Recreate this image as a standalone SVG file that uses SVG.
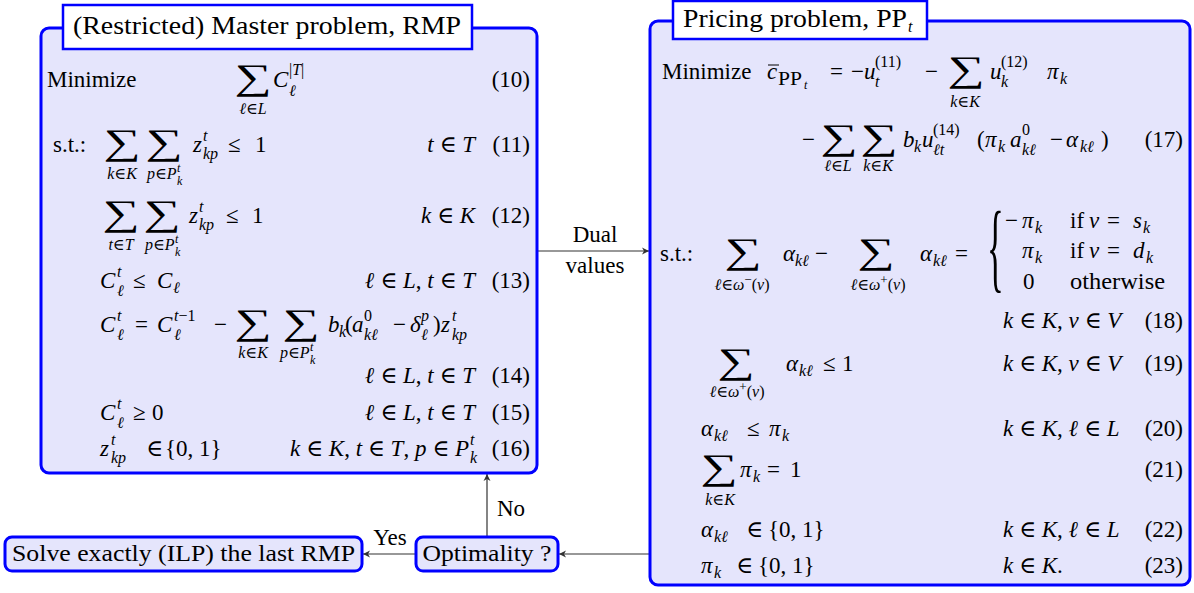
<svg xmlns="http://www.w3.org/2000/svg" width="1194" height="593" viewBox="0 0 1194 593">
<defs>
<marker id="ah" markerWidth="10" markerHeight="8" refX="7" refY="4" orient="auto" markerUnits="userSpaceOnUse">
<path d="M0,0.5 L7,4 L0,7.5 L2,4 Z" fill="#333"/>
</marker>
</defs>
<style>
text{font-family:"Liberation Serif","Times New Roman","DejaVu Serif",serif;font-size:23px;fill:#000}
.i{font-style:italic}
.s{font-size:16px}
.ss{font-size:12px}
.e{text-anchor:end}
.c{text-anchor:middle}
.sum{font-size:36px;text-anchor:middle}
.ttl{font-size:25px}
.box{fill:#e5e5fc;stroke:#0000ff;stroke-width:3}
.tb{fill:#ffffff;stroke:#0000ff;stroke-width:2.5}
.cn{stroke:#333;stroke-width:1.2;fill:none;marker-end:url(#ah)}
.bar{stroke:#000;stroke-width:1}
</style>
<rect width="1194" height="593" fill="#ffffff"/>

<g id="connectors">
<line class="cn" x1="538" y1="251" x2="649" y2="251"/>
<line class="cn" x1="650" y1="554" x2="559" y2="554"/>
<line class="cn" x1="416" y1="554" x2="363" y2="554"/>
<line class="cn" x1="487" y1="537" x2="487" y2="474"/>
<text class="c" x="595" y="242">Dual</text>
<text class="c" x="595" y="273">values</text>
<text class="c" x="390" y="545">Yes</text>
<text x="497" y="516">No</text>
</g>

<g id="rmp">
<rect class="box" x="41" y="28" width="496" height="445" rx="8"/>
<rect class="tb" x="63" y="5" width="409" height="44"/>
<text class="ttl c" x="267" y="34" textLength="388" lengthAdjust="spacingAndGlyphs">(Restricted) Master problem, RMP</text>
<text x="47" y="87">Minimize</text>
<text class="sum" transform="translate(253,89) scale(1.45,1)">∑</text>
<text class="i" x="273" y="87">C</text>
<text class="s" x="289" y="75">|<tspan class="i">T</tspan>|</text>
<text class="s i" x="289" y="96">ℓ</text>
<text class="s c" x="253" y="114"><tspan class="i">ℓ</tspan>∈<tspan class="i">L</tspan></text>
<text class="e" x="530" y="87">(10)</text>
<text x="53" y="152">s.t.:</text>
<text class="sum" transform="translate(122,154) scale(1.45,1)">∑</text>
<text class="sum" transform="translate(164,154) scale(1.45,1)">∑</text>
<text class="s c" x="122" y="179"><tspan class="i">k</tspan>∈<tspan class="i">K</tspan></text>
<text class="s" x="147" y="179"><tspan class="i">p</tspan>∈<tspan class="i">P</tspan></text>
<text class="ss i" x="177" y="172">t</text>
<text class="ss i" x="177" y="185">k</text>
<text class="i" x="193" y="152">z</text>
<text class="s i" x="203" y="141">t</text>
<text class="s i" x="203" y="159">kp</text>
<text x="228" y="152">≤</text>
<text x="255" y="152">1</text>
<text class="e" x="475" y="152"><tspan class="i">t</tspan> ∈ <tspan class="i">T</tspan></text>
<text class="e" x="530" y="152">(11)</text>
<text class="sum" transform="translate(121,225) scale(1.45,1)">∑</text>
<text class="sum" transform="translate(162,225) scale(1.45,1)">∑</text>
<text class="s c" x="121" y="250"><tspan class="i">t</tspan>∈<tspan class="i">T</tspan></text>
<text class="s" x="145" y="250"><tspan class="i">p</tspan>∈<tspan class="i">P</tspan></text>
<text class="ss i" x="175" y="243">t</text>
<text class="ss i" x="175" y="256">k</text>
<text class="i" x="189" y="223">z</text>
<text class="s i" x="199" y="212">t</text>
<text class="s i" x="199" y="230">kp</text>
<text x="226" y="223">≤</text>
<text x="252" y="223">1</text>
<text class="e" x="475" y="223"><tspan class="i">k</tspan> ∈ <tspan class="i">K</tspan></text>
<text class="e" x="530" y="223">(12)</text>
<text class="i" x="100" y="288">C</text>
<text class="s i" x="117" y="277">t</text>
<text class="s i" x="117" y="296">ℓ</text>
<text x="133" y="288">≤</text>
<text class="i" x="157" y="288">C</text>
<text class="s i" x="173" y="293">ℓ</text>
<text class="e" x="475" y="288"><tspan class="i">ℓ</tspan> ∈ <tspan class="i">L</tspan>, <tspan class="i">t</tspan> ∈ <tspan class="i">T</tspan></text>
<text class="e" x="530" y="288">(13)</text>
<text class="i" x="100" y="332">C</text>
<text class="s i" x="117" y="321">t</text>
<text class="s i" x="117" y="340">ℓ</text>
<text x="135" y="332">=</text>
<text class="i" x="157" y="332">C</text>
<text class="s" x="174" y="321"><tspan class="i">t</tspan>−1</text>
<text class="s i" x="174" y="340">ℓ</text>
<text x="214" y="332">−</text>
<text class="sum" transform="translate(253,334) scale(1.45,1)">∑</text>
<text class="sum" transform="translate(301,334) scale(1.45,1)">∑</text>
<text class="s c" x="253" y="358"><tspan class="i">k</tspan>∈<tspan class="i">K</tspan></text>
<text class="s" x="280" y="358"><tspan class="i">p</tspan>∈<tspan class="i">P</tspan></text>
<text class="ss i" x="310" y="351">t</text>
<text class="ss i" x="310" y="364">k</text>
<text class="i" x="328" y="332">b</text>
<text class="s i" x="339" y="337">k</text>
<text x="345" y="332">(</text>
<text class="i" x="352" y="332">a</text>
<text class="s" x="364" y="321">0</text>
<text class="s i" x="364" y="340">kℓ</text>
<text x="393" y="332">−</text>
<text class="i" x="410" y="332">δ</text>
<text class="s i" x="421" y="321">p</text>
<text class="s i" x="421" y="340">ℓ</text>
<text x="433" y="332">)</text>
<text class="i" x="441" y="332">z</text>
<text class="s i" x="452" y="321">t</text>
<text class="s i" x="452" y="340">kp</text>
<text class="e" x="475" y="383"><tspan class="i">ℓ</tspan> ∈ <tspan class="i">L</tspan>, <tspan class="i">t</tspan> ∈ <tspan class="i">T</tspan></text>
<text class="e" x="530" y="383">(14)</text>
<text class="i" x="100" y="420">C</text>
<text class="s i" x="117" y="409">t</text>
<text class="s i" x="117" y="428">ℓ</text>
<text x="133" y="420">≥</text>
<text x="152" y="420">0</text>
<text class="e" x="475" y="420"><tspan class="i">ℓ</tspan> ∈ <tspan class="i">L</tspan>, <tspan class="i">t</tspan> ∈ <tspan class="i">T</tspan></text>
<text class="e" x="530" y="420">(15)</text>
<text class="i" x="100" y="456">z</text>
<text class="s i" x="111" y="445">t</text>
<text class="s i" x="111" y="463">kp</text>
<text x="146" y="456">∈</text>
<text x="165" y="456">{0, 1}</text>
<text class="e" x="469" y="456"><tspan class="i">k</tspan> ∈ <tspan class="i">K</tspan>, <tspan class="i">t</tspan> ∈ <tspan class="i">T</tspan>, <tspan class="i">p</tspan> ∈ <tspan class="i">P</tspan></text>
<text class="s i" x="470" y="445">t</text>
<text class="s i" x="470" y="463">k</text>
<text class="e" x="530" y="456">(16)</text>
</g>

<g id="pricing">
<rect class="box" x="650" y="21" width="540" height="564" rx="8"/>
<rect class="tb" x="673" y="1" width="254" height="38"/>
<text class="ttl" x="683" y="27" textLength="224" lengthAdjust="spacingAndGlyphs">Pricing problem, PP</text>
<text class="s i" x="908" y="32">t</text>
<text x="662" y="79">Minimize</text>
<text class="i" x="767" y="79">c</text>
<line class="bar" x1="768" y1="65" x2="779" y2="65"/>
<text x="778" y="85" style="font-size:18px" textLength="24" lengthAdjust="spacingAndGlyphs">PP</text>
<text class="ss i" x="804" y="89">t</text>
<text x="830" y="79">=</text>
<text x="851" y="79">−</text>
<text class="i" x="864" y="79">u</text>
<text class="s" x="875" y="67">(11)</text>
<text class="s i" x="875" y="87">t</text>
<text x="925" y="79">−</text>
<text class="sum" transform="translate(966,81) scale(1.45,1)">∑</text>
<text class="s c" x="965" y="107"><tspan class="i">k</tspan>∈<tspan class="i">K</tspan></text>
<text class="i" x="990" y="79">u</text>
<text class="s" x="1001" y="67">(12)</text>
<text class="s i" x="1001" y="87">k</text>
<text class="i" x="1047" y="79">π</text>
<text class="s i" x="1060" y="84">k</text>
<text x="802" y="147">−</text>
<text class="sum" transform="translate(839,149) scale(1.45,1)">∑</text>
<text class="sum" transform="translate(879,149) scale(1.45,1)">∑</text>
<text class="s c" x="838" y="171"><tspan class="i">ℓ</tspan>∈<tspan class="i">L</tspan></text>
<text class="s c" x="878" y="171"><tspan class="i">k</tspan>∈<tspan class="i">K</tspan></text>
<text class="i" x="903" y="147">b</text>
<text class="s i" x="914" y="152">k</text>
<text class="i" x="922" y="147">u</text>
<text class="s" x="933" y="135">(14)</text>
<text class="s i" x="933" y="155">ℓt</text>
<text x="977" y="147">(</text>
<text class="i" x="985" y="147">π</text>
<text class="s i" x="998" y="152">k</text>
<text class="i" x="1010" y="147">a</text>
<text class="s" x="1022" y="135">0</text>
<text class="s i" x="1022" y="155">kℓ</text>
<text x="1050" y="147">−</text>
<text class="i" x="1066" y="147">α</text>
<text class="s i" x="1080" y="152">kℓ</text>
<text x="1101" y="147">)</text>
<text class="e" x="1183" y="147">(17)</text>
<text x="660" y="261">s.t.:</text>
<text class="sum" transform="translate(743,263) scale(1.45,1)">∑</text>
<text class="s c" x="742" y="290"><tspan class="i">ℓ</tspan>∈<tspan class="i">ω</tspan><tspan style="font-size:13px" dy="-6">−</tspan><tspan dy="6">(</tspan><tspan class="i">v</tspan>)</text>
<text class="i" x="783" y="261">α</text>
<text class="s i" x="795" y="266">kℓ</text>
<text x="815" y="261">−</text>
<text class="sum" transform="translate(876,263) scale(1.45,1)">∑</text>
<text class="s c" x="878" y="290"><tspan class="i">ℓ</tspan>∈<tspan class="i">ω</tspan><tspan style="font-size:13px" dy="-6">+</tspan><tspan dy="6">(</tspan><tspan class="i">v</tspan>)</text>
<text class="i" x="920" y="261">α</text>
<text class="s i" x="933" y="266">kℓ</text>
<text x="955" y="261">=</text>
<text transform="translate(987,280) scale(0.35,1)" style="font-size:100px">{</text>
<text x="1005" y="228">−</text>
<text class="i" x="1022" y="228">π</text>
<text class="s i" x="1035" y="233">k</text>
<text x="1070" y="228">if</text>
<text class="i" x="1089" y="228">v</text>
<text x="1107" y="228">=</text>
<text class="i" x="1133" y="228">s</text>
<text class="s i" x="1143" y="233">k</text>
<text class="i" x="1022" y="258">π</text>
<text class="s i" x="1035" y="263">k</text>
<text x="1070" y="258">if</text>
<text class="i" x="1089" y="258">v</text>
<text x="1107" y="258">=</text>
<text class="i" x="1133" y="258">d</text>
<text class="s i" x="1146" y="263">k</text>
<text x="1023" y="289">0</text>
<text x="1070" y="289" textLength="95" lengthAdjust="spacingAndGlyphs">otherwise</text>
<text x="1003" y="328"><tspan class="i">k</tspan> ∈ <tspan class="i">K</tspan>, <tspan class="i">v</tspan> ∈ <tspan class="i">V</tspan></text>
<text class="e" x="1183" y="328">(18)</text>
<text class="sum" transform="translate(736,373) scale(1.45,1)">∑</text>
<text class="s c" x="737" y="397"><tspan class="i">ℓ</tspan>∈<tspan class="i">ω</tspan><tspan style="font-size:13px" dy="-6">+</tspan><tspan dy="6">(</tspan><tspan class="i">v</tspan>)</text>
<text class="i" x="786" y="371">α</text>
<text class="s i" x="799" y="376">kℓ</text>
<text x="823" y="371">≤</text>
<text x="842" y="371">1</text>
<text x="1003" y="371"><tspan class="i">k</tspan> ∈ <tspan class="i">K</tspan>, <tspan class="i">v</tspan> ∈ <tspan class="i">V</tspan></text>
<text class="e" x="1183" y="371">(19)</text>
<text class="i" x="701" y="436">α</text>
<text class="s i" x="714" y="441">kℓ</text>
<text x="747" y="436">≤</text>
<text class="i" x="769" y="436">π</text>
<text class="s i" x="782" y="441">k</text>
<text x="1003" y="436"><tspan class="i">k</tspan> ∈ <tspan class="i">K</tspan>, <tspan class="i">ℓ</tspan> ∈ <tspan class="i">L</tspan></text>
<text class="e" x="1183" y="436">(20)</text>
<text class="sum" transform="translate(719,479) scale(1.45,1)">∑</text>
<text class="s c" x="720" y="505"><tspan class="i">k</tspan>∈<tspan class="i">K</tspan></text>
<text class="i" x="740" y="477">π</text>
<text class="s i" x="753" y="482">k</text>
<text x="767" y="477">=</text>
<text x="790" y="477">1</text>
<text class="e" x="1183" y="477">(21)</text>
<text class="i" x="701" y="537">α</text>
<text class="s i" x="714" y="542">kℓ</text>
<text x="746" y="537">∈</text>
<text x="768" y="537">{0, 1}</text>
<text x="1003" y="537"><tspan class="i">k</tspan> ∈ <tspan class="i">K</tspan>, <tspan class="i">ℓ</tspan> ∈ <tspan class="i">L</tspan></text>
<text class="e" x="1183" y="537">(22)</text>
<text class="i" x="701" y="573">π</text>
<text class="s i" x="714" y="578">k</text>
<text x="736" y="573">∈</text>
<text x="758" y="573">{0, 1}</text>
<text x="1003" y="573"><tspan class="i">k</tspan> ∈ <tspan class="i">K</tspan>.</text>
<text class="e" x="1183" y="573">(23)</text>
</g>

<g id="optimality">
<rect class="box" x="416" y="537" width="142" height="34" rx="7"/>
<text class="c" x="487" y="561" textLength="129" lengthAdjust="spacingAndGlyphs">Optimality ?</text>
</g>

<g id="solve">
<rect class="box" x="5" y="537" width="357" height="34" rx="7"/>
<text class="c" x="183.5" y="561" textLength="343" lengthAdjust="spacingAndGlyphs">Solve exactly (ILP) the last RMP</text>
</g>
</svg>
